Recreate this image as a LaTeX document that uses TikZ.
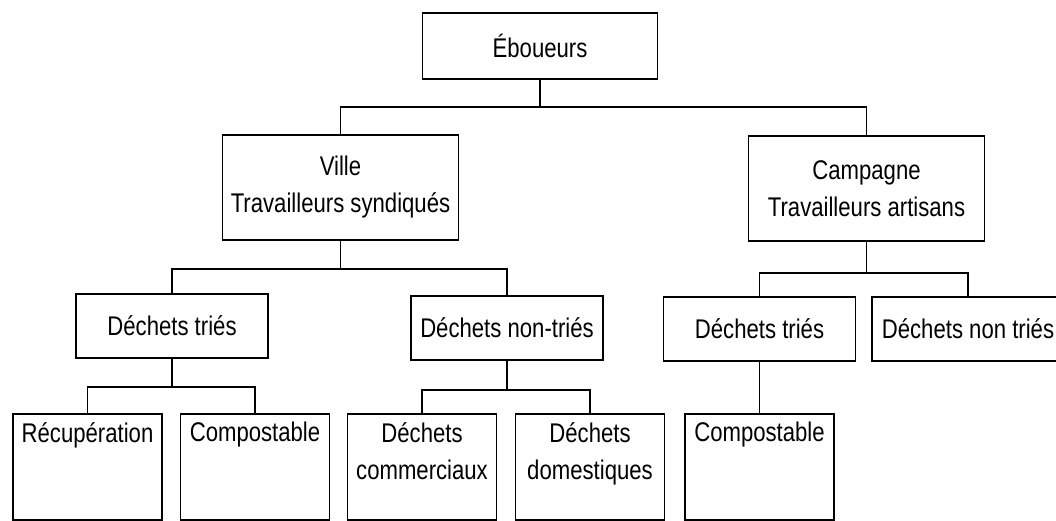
\documentclass[tikz,border=0pt]{standalone}
\usepackage{fontspec}
\setmainfont{Liberation Sans}[FakeStretch=0.82]
\usetikzlibrary{positioning}
\tikzset{
  box/.style={draw=black, line width=1.6pt, fill=white, inner sep=0pt},
  head/.style={box, minimum width=235pt, minimum height=66pt},
  branch/.style={box, align=center, minimum width=236pt, minimum height=105pt},
  sortbox/.style={box, minimum width=192pt, minimum height=64pt},
  leaf/.style={box, minimum width=149pt, minimum height=106pt},
  leaftext/.style={anchor=north, align=center, inner sep=0pt, yshift=-9pt},
  conn/.style={draw=black, line width=1.6pt}
}

\begin{document}
\begin{tikzpicture}[x=1pt,y=-1pt,font=\fontsize{27}{37}\selectfont]
\clip (0,0) rectangle (1056,521);

% Top
\node[head] (eb) at (540,46) {Éboueurs};

% Ville / Campagne
\node[branch] (ville) at (340.5,187.5) {Ville\\Travailleurs syndiqués};
\node[branch] (camp) at (866.5,188.5) {Campagne\\Travailleurs artisans};
\draw[conn] (eb.south) -- ++(0,27) -| (ville.north);
\draw[conn] (eb.south) -- ++(0,27) -| (camp.north);

% Sorting level
\node[sortbox] (vtri) at (172,326) {Déchets triés};
\node[sortbox] (vnon) at (507,328) {Déchets non-triés};
\node[sortbox] (ctri) at (759.5,329) {Déchets triés};
\node[sortbox] (cnon) at (968,329) {Déchets non triés};
\draw[conn] (ville.south) -- ++(0,28) -| (vtri.north);
\draw[conn] (ville.south) -- ++(0,28) -| (vnon.north);
\draw[conn] (camp.south) -- ++(0,31) -| (ctri.north);
\draw[conn] (camp.south) -- ++(0,31) -| (cnon.north);

% Leaves
\node[leaf, label={[leaftext]north:Récupération}] (recup) at (87.5,467) {};
\node[leaf, label={[leaftext]north:Compostable}] (vcomp) at (255,467) {};
\node[leaf, label={[leaftext]north:Déchets\\commerciaux}] (comm) at (422,467) {};
\node[leaf, label={[leaftext]north:Déchets\\domestiques}] (dom) at (590,467) {};
\node[leaf, label={[leaftext]north:Compostable}] (ccomp) at (759.5,467) {};
\draw[conn] (vtri.south) -- ++(0,28) -| (recup.north);
\draw[conn] (vtri.south) -- ++(0,28) -| (vcomp.north);
\draw[conn] (vnon.south) -- ++(0,29) -| (comm.north);
\draw[conn] (vnon.south) -- ++(0,29) -| (dom.north);
\draw[conn] (ctri.south) -- (ccomp.north);

\end{tikzpicture}
\end{document}
